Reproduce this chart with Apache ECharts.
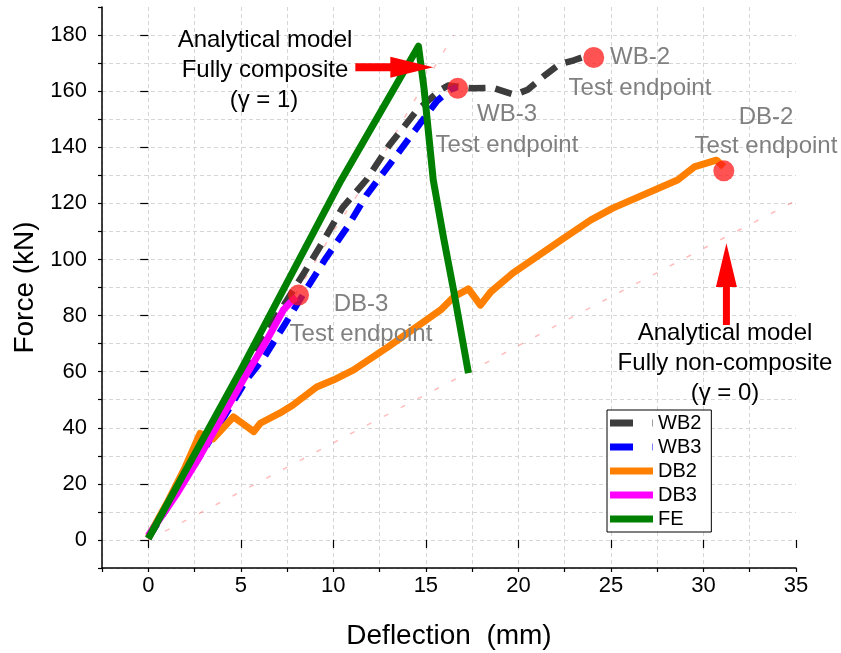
<!DOCTYPE html>
<html><head><meta charset="utf-8">
<script src="https://cdn.jsdelivr.net/npm/echarts@6/dist/echarts.min.js"></script>
<style>html,body{margin:0;padding:0;background:#fff}#c{width:841px;height:653px}</style>
</head><body><div id="c"></div>
<script>
// ---------- data ----------
const legendNames = ['WB2', 'WB3', 'DB2', 'DB3', 'FE'];
const xMajorTicks = [0, 5, 10, 15, 20, 25, 30, 35];
const yMajorTicks = [0, 20, 40, 60, 80, 100, 120, 140, 160, 180];

const WB2_x = [0, 3, 6.2, 8.4, 9.5, 10.5, 11.8, 13.0, 14.5, 15.8, 16.2, 17.5, 18.6, 19.8, 20.5, 21.5, 22.2, 23.0, 23.8];
const WB2_y = [0.5, 33, 72, 95, 107, 118.5, 128.5, 140.5, 153, 160.5, 162, 161, 161.2, 158.7, 160.5, 166, 169.5, 171, 172.8];

const WB3_x = [0, 3, 5.3, 6.2, 7.3, 8.6, 9.6, 10.75, 11.8, 13.0, 14.3, 15.6, 16.3, 16.7];
const WB3_y = [1, 32, 57, 64.5, 76, 90, 100.5, 111.5, 123, 133.5, 145, 156.5, 160.5, 161.5];

const DB2_x = [0, 1, 2, 2.8, 3.5, 4.6, 5.1, 5.7, 6.05, 7.1, 7.8, 9.1, 10.0, 11.1, 13.0, 15.8, 16.5, 17.3, 17.95, 18.5, 19.7, 22.3, 23.9, 25.1, 28.6, 29.5, 30.7, 31.1];
const DB2_y = [1, 13, 26, 38, 36, 43.9, 41.5, 38.6, 41.6, 45.2, 48, 54.5, 57, 60.6, 69, 82, 86.6, 89.5, 83.7, 88.4, 95.1, 106.9, 114, 118.3, 128.3, 133, 135.4, 133];

const DB3_x = [0, 1.5, 2.8, 4.0, 5.3, 6.3, 7.3, 7.8, 8.0];
const DB3_y = [1.5, 16, 30, 44, 59, 70, 82, 85.5, 86.5];

const FE_x = [0, 5, 10.4, 14.6, 14.7, 14.9, 15.4, 15.95, 16.5, 17.3];
const FE_y = [0.5, 60.5, 128, 176, 176.5, 161, 128.3, 108, 89, 59.5];

const AC1_x = [0, 10, 12.4, 14.5, 16.5];          // analytical, fully composite
const AC1_y = [0, 110, 134, 158, 180];
const AC0_x = [0, 5, 10.8, 16.7, 22.4, 28.8, 35];  // analytical, fully non-composite
const AC0_y = [0, 17.2, 37.4, 57.7, 77.7, 99.8, 121];

const EP_x = [16.72, 24.07, 31.1, 8.12];           // test endpoints WB-3, WB-2, DB-2, DB-3
const EP_y = [161, 172, 131.6, 87.3];

// ---------- chart ----------
const FONT = '"Liberation Sans", Arial, sans-serif';
const zip = (xs, ys) => xs.map((x, i) => [x, ys[i]]);
const chart = echarts.init(document.getElementById('c'), null, {renderer: 'canvas'});

function lineSeries(name, xs, ys, color, dashed) {
  return {
    name, type: 'line', data: zip(xs, ys), showSymbol: false, symbol: 'none',
    xAxisIndex: 0, yAxisIndex: 0, animation: false,
    lineStyle: {color, width: dashed ? 6.5 : 7, type: dashed ? [17, 10] : 'solid', cap: 'butt', join: 'round'},
    itemStyle: {color}
  };
}
const anaStyle = {color: 'rgba(255,90,90,0.4)', width: 1.5, type: [5, 14]};

const splitStyle = {show: true, showMaxLine: false, lineStyle: {color: '#d6d6d6', type: [4, 3], width: 1}};
const axisLineStyle = {show: true, onZero: false, lineStyle: {color: '#000', width: 1.5}};
const dashIcon = 'path://M0,0H23V7H0Z M42.5,0H43V7H42.5Z';

const option = {
  animation: false,
  backgroundColor: '#fff',
  textStyle: {fontFamily: FONT},
  grid: {left: 102, right: 45, top: 7, bottom: 85, containLabel: false, outerBoundsMode: 'none'},
  xAxis: [{
    type: 'value', min: -2.5, max: 35, interval: 2.5, position: 'bottom',
    name: 'Deflection  (mm)', nameLocation: 'middle', nameGap: 54,
    nameTextStyle: {fontSize: 28, color: '#000', fontFamily: FONT},
    axisLine: axisLineStyle,
    axisTick: {show: true, inside: false, length: 4, lineStyle: {color: '#000', width: 1.2}},
    axisLabel: {fontSize: 22, color: '#000', fontFamily: FONT, margin: 7,
      formatter: v => (Math.abs(v % 5) < 1e-9 ? String(v) : '')},
    splitLine: splitStyle
  }, {
    type: 'value', min: -2.5, max: 35, position: 'bottom', offset: 0,
    axisLine: {show: false},
    axisTick: {show: true, inside: false, length: 8, customValues: xMajorTicks, lineStyle: {color: '#000', width: 1.2}},
    axisLabel: {show: false}, splitLine: {show: false}
  }],
  yAxis: [{
    type: 'value', min: -10, max: 190, interval: 10, position: 'left',
    name: 'Force (kN)', nameLocation: 'middle', nameGap: 59, nameRotate: 90,
    nameTextStyle: {fontSize: 28, color: '#000', fontFamily: FONT},
    axisLine: axisLineStyle,
    axisTick: {show: true, inside: false, length: 4, lineStyle: {color: '#000', width: 1.2}},
    axisLabel: {fontSize: 22, color: '#000', fontFamily: FONT, margin: 15,
      formatter: v => (Math.abs(v % 20) < 1e-9 ? String(v) : '')},
    splitLine: splitStyle
  }, {
    type: 'value', min: -10, max: 190, position: 'left', offset: 0,
    axisLine: {show: false},
    axisTick: {show: true, inside: false, length: 8, customValues: yMajorTicks, lineStyle: {color: '#000', width: 1.2}},
    axisLabel: {show: false}, splitLine: {show: false}
  }],
  legend: {
    data: [
      {name: 'WB2', icon: dashIcon},
      {name: 'WB3', icon: dashIcon},
      {name: 'DB2', icon: 'rect'},
      {name: 'DB3', icon: 'rect'},
      {name: 'FE', icon: 'rect'}
    ],
    orient: 'vertical', left: 607, top: 410,
    itemWidth: 43, itemHeight: 7, itemGap: 4,
    padding: [3, 10, 3, 3], borderColor: '#000', borderWidth: 1, backgroundColor: '#fff',
    textStyle: {fontSize: 20, color: '#000', fontFamily: FONT, lineHeight: 20},
    selectedMode: false
  },
  series: [
    {name: 'ana1', type: 'line', data: zip(AC1_x, AC1_y), showSymbol: false, symbol: 'none', lineStyle: anaStyle, silent: true, z: 1},
    {name: 'ana0', type: 'line', data: zip(AC0_x, AC0_y), showSymbol: false, symbol: 'none', lineStyle: anaStyle, silent: true, z: 1},
    lineSeries('WB2', WB2_x, WB2_y, '#3c3c3c', true),
    lineSeries('WB3', WB3_x, WB3_y, '#0000ff', true),
    lineSeries('DB2', DB2_x, DB2_y, '#ff8000', false),
    lineSeries('DB3', DB3_x, DB3_y, '#ff00ff', false),
    lineSeries('FE', FE_x, FE_y, '#008000', false),
    {name: 'endpoints', type: 'scatter', data: zip(EP_x, EP_y), symbolSize: 21, z: 10,
      itemStyle: {color: '#ff1a1a', opacity: 0.75}, silent: true}
  ]
};
chart.setOption(option);

// ---------- annotations ----------
const P = (x, y) => chart.convertToPixel({xAxisIndex: 0, yAxisIndex: 0}, [x, y]);
function hArrow(x0, xh, x1, y, hh, sh) {
  const a = P(x0, y), b = P(xh, y), c = P(x1, y);
  return {type: 'polygon', z: 20, shape: {points: [
    [a[0], a[1] - sh], [b[0], b[1] - sh], [b[0], b[1] - hh], [c[0], c[1]],
    [b[0], b[1] + hh], [b[0], b[1] + sh], [a[0], a[1] + sh]]}, style: {fill: '#ff0000'}};
}
function vArrow(x, y0, yh, y1, hw, sw) {
  const a = P(x, y0), b = P(x, yh), c = P(x, y1);
  return {type: 'polygon', z: 20, shape: {points: [
    [a[0] - sw, a[1]], [b[0] - sw, b[1]], [b[0] - hw, b[1]], [c[0], c[1]],
    [b[0] + hw, b[1]], [b[0] + sw, b[1]], [a[0] + sw, a[1]]]}, style: {fill: '#ff0000'}};
}
function txt(s, x, y, color, align) {
  return {type: 'text', z: 30, x, y, style: {text: s, fill: color, font: '24px ' + FONT,
    align: align || 'center', verticalAlign: 'middle'}};
}
const GREY = '#808080';
chart.setOption({graphic: [
  txt('Analytical model', 265, 40, '#000'),
  txt('Fully composite', 265, 70, '#000'),
  txt('(\u03b3 = 1)', 264, 100, '#000'),
  txt('Analytical model', 725, 333, '#000'),
  txt('Fully non-composite', 725, 363, '#000'),
  txt('(\u03b3 = 0)', 725, 393, '#000'),
  txt('WB-2', 610, 57, GREY, 'left'),
  txt('Test endpoint', 640, 88, GREY),
  txt('WB-3', 507, 114, GREY),
  txt('Test endpoint', 507, 145, GREY),
  txt('DB-2', 766, 117, GREY),
  txt('Test endpoint', 766, 146, GREY),
  txt('DB-3', 361, 304, GREY),
  txt('Test endpoint', 361, 334, GREY),
  hArrow(11.19, 13.08, 15.4, 168.5, 10.5, 4),
  vArrow(31.24, 76.6, 90.2, 105.8, 10.5, 3.5)
]});
</script></body></html>
